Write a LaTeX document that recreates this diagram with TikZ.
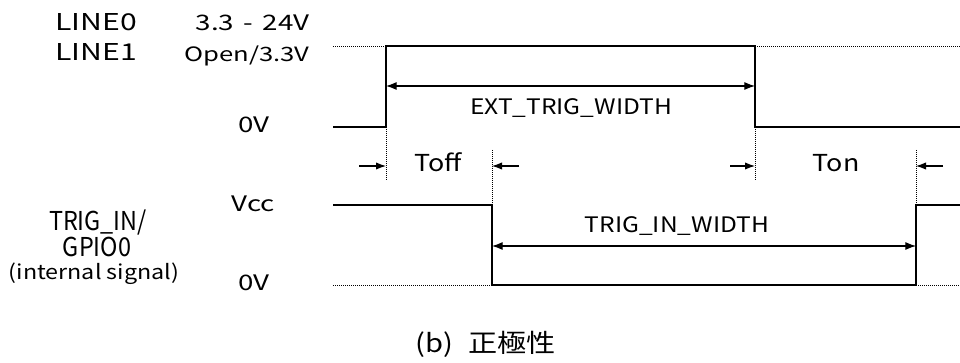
\documentclass[tikz,border=0pt]{standalone}
\usepackage{fontspec}
\setmainfont{Noto Sans CJK JP}[FakeStretch=1.15]
\newfontfamily\widefont{Noto Sans CJK JP}[FakeStretch=1.3]
\newfontfamily\tallfont{Noto Sans CJK JP}[FakeStretch=0.9]
\usetikzlibrary{arrows.meta}

\tikzset{
  sig/.style={line width=1.6pt},
  guide/.style={line width=0.6pt, dash pattern=on 0.75pt off 0.75pt},
  dimline/.style={line width=0.8pt, {Latex[length=8pt,width=6pt]}-{Latex[length=8pt,width=6pt]}},
  tick/.style={line width=0.8pt, -{Latex[length=7.5pt,width=5.5pt]}},
  lvltxt/.style={inner sep=0pt, font=\widefont\fontsize{16}{19}\selectfont},
  sigtxt/.style={inner sep=0pt, font=\widefont\fontsize{17.4}{20}\selectfont},
  bigtxt/.style={inner sep=0pt, font=\tallfont\fontsize{19.5}{22}\selectfont},
  txt/.style={inner sep=0pt, font=\fontsize{16}{19}\selectfont},
}

\begin{document}
\begin{tikzpicture}[x=0.75pt,y=-0.75pt]
  \useasboundingbox (0,0) rectangle (960,363);

  % signal names and levels
  \node[sigtxt, anchor=base west] (line0) at (55,31) {LINE0};
  \node[sigtxt, anchor=base west] (line1) at (55,61) {LINE1};
  \node[lvltxt, anchor=base east] (hi1) at (310,31) {3.3\hspace{0.45em}-\hspace{0.45em}24V};
  \node[lvltxt, font=\widefont\fontsize{14.8}{18}\selectfont, anchor=base east] (hi2) at (310,62) {Open/3.3V};
  \node[lvltxt, anchor=base east] (lo1) at (270,133) {0V};

  \node[bigtxt, anchor=base] (trig) at (98,231) {TRIG\_IN/};
  \node[bigtxt, anchor=base] (gpio) at (97,257) {GPIO0};
  \node[txt, font=\fontsize{15.2}{18}\selectfont, anchor=base] (intern) at (94,280) {(internal signal)};
  \node[lvltxt, anchor=base east] (vcc) at (275,212) {Vcc};
  \node[lvltxt, anchor=base east] (lo2) at (270,291) {0V};

  % external trigger
  \draw[sig] (333,127) -- (386,127) -- (386,46) -- (755,46) -- (755,127) -- (960,127);
  \draw[guide] (333,46) -- (386,46);
  \draw[guide] (755,46) -- (960,46);

  % internal trigger
  \draw[sig] (333,205) -- (492,205) -- (492,285) -- (916,285) -- (916,205) -- (960,205);
  \draw[guide] (333,285) -- (492,285);
  \draw[guide] (916,285) -- (960,285);

  \foreach \x in {386,755}
      \draw[guide] (\x,127) -- (\x,180);
  \foreach \x in {492,916}
      \draw[guide] (\x,150) -- (\x,205);

  % widths
  \coordinate (extL) at (386,86);
  \coordinate (extR) at (755,86);
  \draw[dimline] (extL) -- (extR);
  \node[txt, anchor=base] (extw) at (571,115) {EXT\_TRIG\_WIDTH};

  \coordinate (inL) at (492,246);
  \coordinate (inR) at (916,246);
  \draw[dimline] (inL) -- (inR);
  \node[txt, anchor=base] (inw) at (677,233) {TRIG\_IN\_WIDTH};

  % delays
  \coordinate (toffA) at (359,166);
  \coordinate (toffB) at (386,166);
  \coordinate (toffC) at (519,166);
  \coordinate (toffD) at (492,166);
  \draw[tick] (toffA) -- (toffB);
  \draw[tick] (toffC) -- (toffD);
  \node[txt, font=\fontsize{17.5}{20}\selectfont, anchor=base] (toff) at (438,172) {Toff};

  \coordinate (tonA) at (730,166);
  \coordinate (tonB) at (755,166);
  \coordinate (tonC) at (943,166);
  \coordinate (tonD) at (916,166);
  \draw[tick] (tonA) -- (tonB);
  \draw[tick] (tonC) -- (tonD);
  \node[txt, font=\fontsize{17.5}{20}\selectfont, anchor=base] (ton) at (836,172) {Ton};

  \node[inner sep=0pt, font=\fontsize{19}{22}\selectfont, anchor=base] (cap) at (486,352) {(b)\hspace{0.6em}正極性};
\end{tikzpicture}
\end{document}
